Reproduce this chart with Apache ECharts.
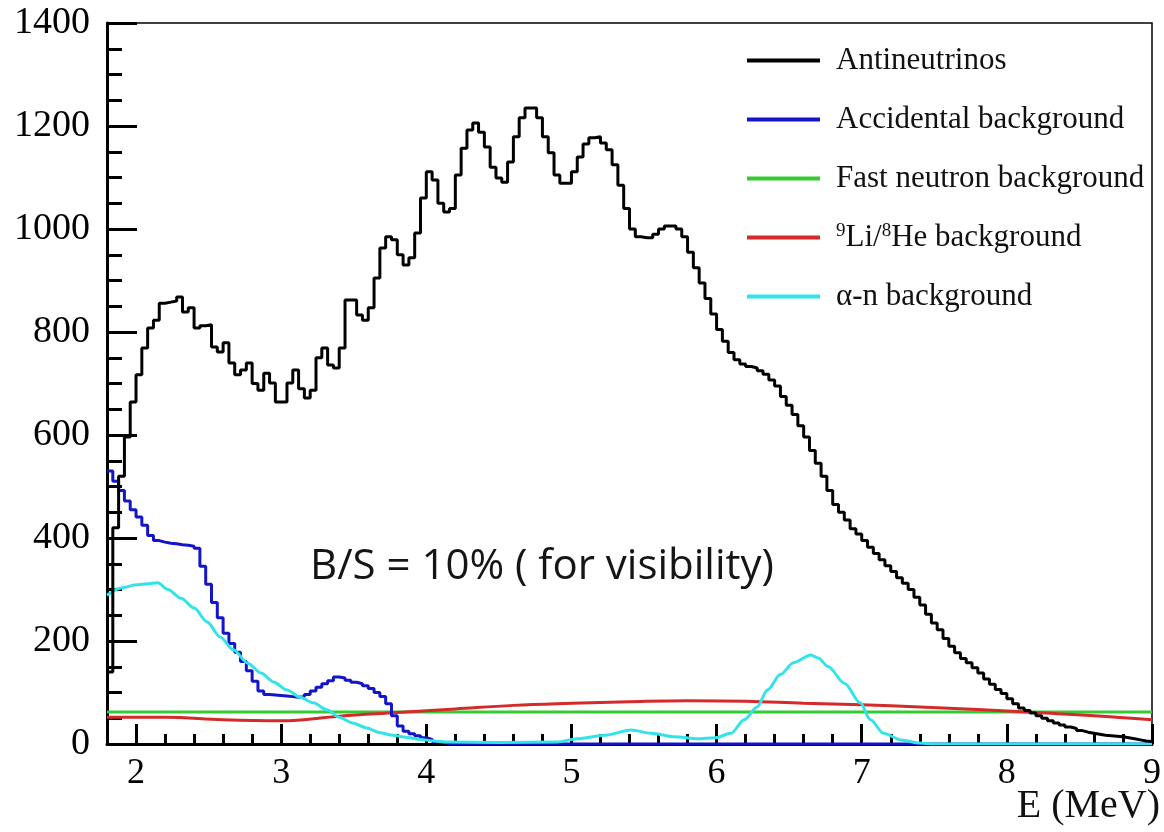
<!DOCTYPE html>
<html><head><meta charset="utf-8">
<script src="https://cdn.jsdelivr.net/npm/echarts@6/dist/echarts.min.js"></script>
<style>html,body{margin:0;padding:0;background:#fff}#c{width:1164px;height:832px}</style>
</head><body><div id="c"></div>
<script>
// Histogram binning (MeV)
const binStart = 1.8;
const binWidth = 0.04;

// Antineutrino spectrum, one value per 0.04 MeV bin from 1.8 to 9.0
const antineutrinos = [
  140, 420, 520, 596, 664, 717, 769, 808, 823, 856,
  858, 860, 868, 839, 847, 808, 812, 814, 771, 761,
  779, 740, 717, 726, 740, 700, 687, 720, 701, 664,
  664, 701, 726, 690, 672, 687, 750, 769, 736, 730,
  769, 862, 862, 833, 823, 847, 905, 963, 985, 979,
  950, 930, 944, 992, 1060, 1111, 1095, 1050, 1033, 1040,
  1105, 1157, 1192, 1206, 1188, 1159, 1120, 1099, 1091, 1130,
  1179, 1216, 1235, 1235, 1216, 1179, 1148, 1105, 1089, 1089,
  1111, 1140, 1165, 1177, 1179, 1167, 1154, 1125, 1085, 1040,
  1000, 985, 983, 983, 990, 1000, 1006, 1006, 1000, 985,
  955, 925, 895, 865, 835, 805, 782, 760, 746, 738,
  733, 730, 725, 718, 707, 695, 675, 658, 640, 618,
  596, 570, 545, 520, 492, 465, 450, 435, 418, 408,
  395, 382, 370, 358, 346, 335, 323, 312, 300, 285,
  270, 252, 235, 222, 205, 190, 177, 166, 158, 148,
  138, 126, 116, 106, 98, 88, 78, 70, 65, 60,
  55, 50, 45, 41, 37, 33, 30, 26, 23, 21,
  19, 17, 16, 15, 14, 12, 10, 8, 6, 5
];

// Accidental background, same binning
const accidental = [
  530, 510, 492, 472, 455, 441, 425, 405, 395, 392,
  390, 389, 387, 386, 384, 380, 345, 310, 275, 245,
  215, 195, 178, 160, 142, 122, 103, 96, 95, 94,
  93, 92, 91, 92, 96, 103, 110, 117, 123, 130,
  128, 124, 120, 117, 113, 108, 100, 92, 78, 55,
  35, 25, 20, 16, 12, 9, 5, 3, 1, 0,
  0, 0, 0, 0, 0, 0, 0, 0, 0, 0,
  0, 0, 0, 0, 0, 0, 0, 0, 0, 0,
  0, 0, 0, 0, 0, 0, 0, 0, 0, 0,
  0, 0, 0, 0, 0, 0, 0, 0, 0, 0,
  0, 0, 0, 0, 0, 0, 0, 0, 0, 0,
  0, 0, 0, 0, 0, 0, 0, 0, 0, 0,
  0, 0, 0, 0, 0, 0, 0, 0, 0, 0,
  0, 0, 0, 0, 0, 0, 0, 0, 0, 0,
  0, 0, 0, 0, 0, 0, 0, 0, 0, 0,
  0, 0, 0, 0, 0, 0, 0, 0, 0, 0,
  0, 0, 0, 0, 0, 0, 0, 0, 0, 0,
  0, 0, 0, 0, 0, 0, 0, 0, 0, 0
];

// Fast neutron background (flat)
const fastNeutronE = [1.8, 9.0];
const fastNeutron = [62, 62];

// 9Li/8He background
const liHeE = [1.8, 2.2, 2.6, 3.0, 3.4, 3.8, 4.2, 4.6, 5.0, 5.4, 5.8, 6.2, 6.6, 7.0, 7.4, 7.8, 8.2, 8.6, 9.0];
const liHe  = [52, 52, 47, 45, 54, 61, 68, 75, 79, 82, 84, 83, 79, 76, 72, 67, 61, 55, 47];

// alpha-n background
const alphaNE = [1.8, 1.9, 2.0, 2.08, 2.15, 2.22, 2.31, 2.40, 2.49, 2.58, 2.67, 2.77, 2.86, 2.95, 3.04, 3.13, 3.22, 3.32, 3.40, 3.49,
  3.59, 3.68, 3.77, 3.86, 3.95, 4.05, 4.15, 4.5, 4.9, 5.04, 5.23, 5.41, 5.55, 5.71, 5.87, 5.99, 6.10, 6.19, 6.28, 6.35,
  6.44, 6.53, 6.65, 6.70, 6.77, 6.88, 6.99, 7.06, 7.15, 7.27, 7.40, 7.5, 9.0];
const alphaN  = [289, 303, 309, 311, 313, 300, 283, 264, 237, 208, 183, 157, 138, 120, 105, 91, 80, 66, 52, 41,
  31, 22, 17, 13, 9, 6, 4, 3, 4, 10, 17, 27, 21, 14, 10, 12, 21, 47, 72, 105,
  135, 158, 173, 167, 150, 118, 80, 47, 21, 8, 2, 0, 0];

// Axis ticks
const xMajorTicks = [2, 3, 4, 5, 6, 7, 8, 9];
const xMinorTicks = [2.2, 2.4, 2.6, 2.8, 3.2, 3.4, 3.6, 3.8, 4.2, 4.4, 4.6, 4.8, 5.2, 5.4, 5.6, 5.8,
  6.2, 6.4, 6.6, 6.8, 7.2, 7.4, 7.6, 7.8, 8.2, 8.4, 8.6, 8.8];
const names = ['Antineutrinos', 'Accidental background', 'Fast neutron background', '9Li/8He background', '\u03b1-n background'];

function histData(vals) {
  const d = vals.map((v, i) => [+(binStart + i * binWidth).toFixed(4), v]);
  d.push([+(binStart + vals.length * binWidth).toFixed(4), vals[vals.length - 1]]);
  return d;
}
function pairs(xs, ys) { return xs.map((x, i) => [x, ys[i]]); }

const serif = '"Liberation Serif", "DejaVu Serif", serif';
const chart = echarts.init(document.getElementById('c'), null, {renderer: 'canvas'});
chart.setOption({
  animation: false,
  backgroundColor: '#fff',
  grid: {left: 107, right: 7, top: 23, bottom: 88, show: true, borderColor: '#000', borderWidth: 1.5},
  xAxis: [{
    type: 'value', min: 1.8, max: 9,
    axisLine: {show: true, lineStyle: {color: '#000', width: 3}},
    axisTick: {show: true, inside: true, length: 20, lineStyle: {color: '#000', width: 3}, customValues: xMajorTicks},
    axisLabel: {show: true, customValues: xMajorTicks, fontFamily: serif, fontSize: 36, color: '#000', margin: 12},
    splitLine: {show: false}
  }, {
    type: 'value', min: 1.8, max: 9, gridIndex: 0, position: 'bottom',
    axisLine: {show: false},
    axisTick: {show: true, inside: true, length: 10, lineStyle: {color: '#000', width: 3}, customValues: xMinorTicks},
    axisLabel: {show: false},
    splitLine: {show: false}
  }],
  yAxis: {
    type: 'value', min: 0, max: 1400, interval: 200,
    axisLine: {show: true, lineStyle: {color: '#000', width: 3}},
    axisTick: {show: true, inside: true, length: 30, lineStyle: {color: '#000', width: 3}},
    minorTick: {show: true, splitNumber: 4, length: 15, lineStyle: {color: '#000', width: 3}},
    axisLabel: {fontFamily: serif, fontSize: 38, color: '#000', margin: 17, formatter: function (v) { return String(v); }},
    splitLine: {show: false}
  },
  legend: {
    orient: 'vertical', left: 747, top: 45, padding: 0,
    itemWidth: 73, itemHeight: 4, itemGap: 28, icon: 'rect',
    data: names,
    formatter: function (n) {
      if (n === names[3]) return '{sup|9}{n|Li/}{sup|8}{n|He background}';
      return n;
    },
    textStyle: {
      fontFamily: serif, fontSize: 31, color: '#111', lineHeight: 31, padding: [0, 0, 0, 11],
      rich: {
        n: {fontFamily: serif, fontSize: 31, color: '#111', lineHeight: 31},
        sup: {fontFamily: serif, fontSize: 19, color: '#111', lineHeight: 31, verticalAlign: 'top', padding: [0, 0, 12, 0]}
      }
    }
  },
  graphic: [
    {type: 'text', x: 310, y: 567, z: 100, style: {text: 'B/S = 10% ( for visibility)', font: '42px "Open Sans"', fill: '#151515', align: 'left', verticalAlign: 'middle'}},
    {type: 'text', x: 1160, y: 806, z: 100, style: {text: 'E (MeV)', font: '40px "Liberation Serif"', fill: '#111', align: 'right', verticalAlign: 'middle'}}
  ],
  series: [
    {name: names[0], type: 'line', step: 'end', data: histData(antineutrinos), symbol: 'none', color: '#000', lineStyle: {width: 3, color: '#000'}, z: 6},
    {name: names[1], type: 'line', step: 'end', data: histData(accidental), symbol: 'none', color: '#1414c8', lineStyle: {width: 3, color: '#1414c8'}, z: 4},
    {name: names[2], type: 'line', data: pairs(fastNeutronE, fastNeutron), symbol: 'none', color: '#33cc33', lineStyle: {width: 3, color: '#33cc33'}, z: 3},
    {name: names[3], type: 'line', smooth: 0.4, data: pairs(liHeE, liHe), symbol: 'none', color: '#d42a2a', lineStyle: {width: 3, color: '#d42a2a'}, z: 3},
    {name: names[4], type: 'line', smooth: 0.3, smoothMonotone: 'x', data: pairs(alphaNE, alphaN), symbol: 'none', color: '#33e3ea', lineStyle: {width: 3, color: '#33e3ea'}, z: 5}
  ]
});
</script></body></html>
